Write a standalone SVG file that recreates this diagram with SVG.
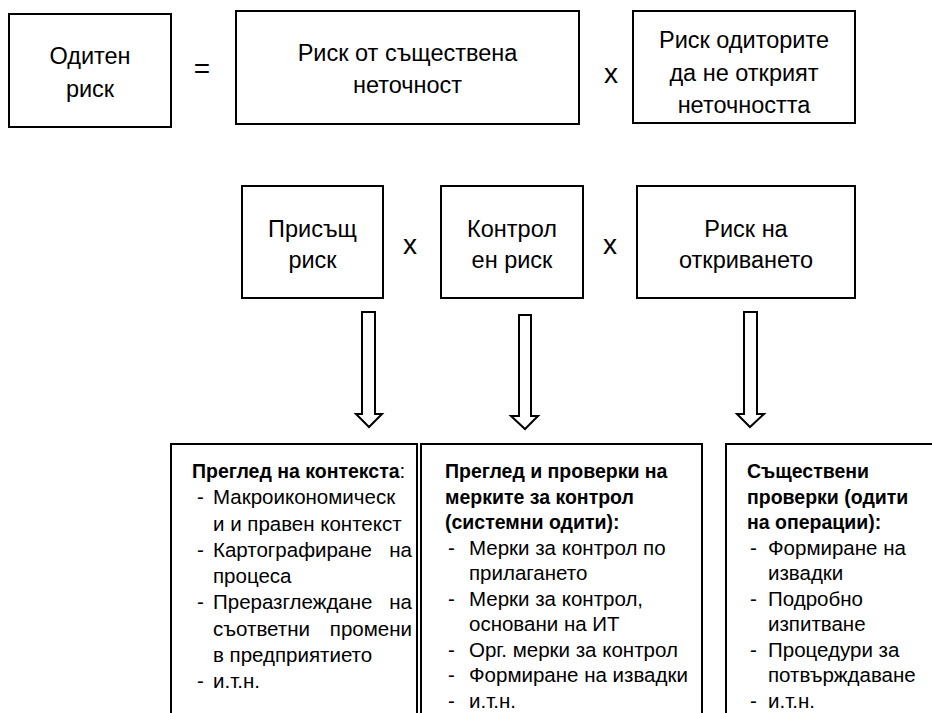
<svg xmlns="http://www.w3.org/2000/svg" width="932" height="713" viewBox="0 0 932 713">
<style>
  .box { fill: #ffffff; stroke: #000000; stroke-width: 2; }
  .arrow { fill: #ffffff; stroke: #000000; stroke-width: 2; stroke-linejoin: miter; }
  text { font-family: "Liberation Sans", Arial, sans-serif; fill: #000000; }
  .big { font-size: 23.5px; text-anchor: middle; }
  .op { font-size: 28px; text-anchor: middle; }
  .t { font-size: 20.5px; }
  .b { font-weight: bold; font-size: 19.5px; }
</style>
<rect x="0" y="0" width="932" height="713" fill="#ffffff"/>

<g id="audit-risk">
  <rect class="box" x="9" y="14" width="162" height="113"/>
  <text class="big" x="90" y="64">Одитен</text>
  <text class="big" x="90" y="97">риск</text>
</g>
<text class="op" x="202" y="78">=</text>
<g id="material-misstatement">
  <rect class="box" x="236" y="11" width="343" height="113"/>
  <text class="big" x="407.5" y="61">Риск от съществена</text>
  <text class="big" x="407.5" y="93">неточност</text>
</g>
<text class="op" x="611" y="83">x</text>
<g id="detection-failure">
  <rect class="box" x="633" y="11" width="222" height="112"/>
  <text class="big" x="744" y="48">Риск одиторите</text>
  <text class="big" x="744" y="81">да не открият</text>
  <text class="big" x="744" y="113">неточността</text>
</g>

<g id="inherent-risk">
  <rect class="box" x="242" y="186" width="141" height="112"/>
  <text class="big" x="312.5" y="237">Присъщ</text>
  <text class="big" x="312.5" y="268">риск</text>
</g>
<text class="op" x="410" y="254">x</text>
<g id="control-risk">
  <rect class="box" x="441" y="186" width="142" height="112"/>
  <text class="big" x="512" y="237">Контрол</text>
  <text class="big" x="512" y="268">ен риск</text>
</g>
<text class="op" x="610" y="254">x</text>
<g id="detection-risk">
  <rect class="box" x="637" y="186" width="218" height="112"/>
  <text class="big" x="746" y="237">Риск на</text>
  <text class="big" x="746" y="268">откриването</text>
</g>

<g id="connectors">
  <path class="arrow" d="M362,312 H375 V414 H382 L369,427 L356,414 H362 Z"/>
  <path class="arrow" d="M519,315 H531 V416 H538 L525,429 L511,416 H519 Z"/>
  <path class="arrow" d="M744,312 H757 V414 H764 L750,427 L737,414 H744 Z"/>
</g>

<g id="context-review">
  <rect class="box" x="171" y="444" width="246" height="290"/>
  <text class="t" x="192" y="478"><tspan class="b">Преглед на контекста</tspan>:</text>
  <text class="t" x="197" y="504.25">-</text>
  <text class="t" x="213" y="504.25">Макроикономическ</text>
  <text class="t" x="213" y="530.5">и и правен контекст</text>
  <text class="t" x="197" y="556.75">-</text>
  <text class="t" x="213" y="556.75">Картографиране</text>
  <text class="t" x="412" y="556.75" text-anchor="end">на</text>
  <text class="t" x="213" y="583">процеса</text>
  <text class="t" x="197" y="609.25">-</text>
  <text class="t" x="213" y="609.25">Преразглеждане</text>
  <text class="t" x="412" y="609.25" text-anchor="end">на</text>
  <text class="t" x="213" y="635.5">съответни</text>
  <text class="t" x="412" y="635.5" text-anchor="end">промени</text>
  <text class="t" x="213" y="661.75">в предприятието</text>
  <text class="t" x="197" y="688">-</text>
  <text class="t" x="213" y="688">и.т.н.</text>
</g>

<g id="controls-review">
  <rect class="box" x="421" y="444" width="281" height="290"/>
  <text class="t b" x="445" y="478">Преглед и проверки на</text>
  <text class="t b" x="445" y="503.5">мерките за контрол</text>
  <text class="t b" x="445" y="529">(системни одити):</text>
  <text class="t" x="448" y="554.5">-</text>
  <text class="t" x="469" y="554.5">Мерки за контрол по</text>
  <text class="t" x="469" y="580">прилагането</text>
  <text class="t" x="448" y="605.5">-</text>
  <text class="t" x="469" y="605.5">Мерки за контрол,</text>
  <text class="t" x="469" y="631">основани на ИТ</text>
  <text class="t" x="448" y="656.5">-</text>
  <text class="t" x="469" y="656.5">Орг. мерки за контрол</text>
  <text class="t" x="448" y="682">-</text>
  <text class="t" x="469" y="682">Формиране на извадки</text>
  <text class="t" x="448" y="707.5">-</text>
  <text class="t" x="469" y="707.5">и.т.н.</text>
</g>

<g id="substantive-tests">
  <rect class="box" x="726" y="444" width="230" height="290"/>
  <text class="t b" x="747" y="478">Съществени</text>
  <text class="t b" x="747" y="503.5">проверки (одити</text>
  <text class="t b" x="747" y="529">на операции):</text>
  <text class="t" x="750" y="554.5">-</text>
  <text class="t" x="768" y="554.5">Формиране на</text>
  <text class="t" x="768" y="580">извадки</text>
  <text class="t" x="750" y="605.5">-</text>
  <text class="t" x="768" y="605.5">Подробно</text>
  <text class="t" x="768" y="631">изпитване</text>
  <text class="t" x="750" y="656.5">-</text>
  <text class="t" x="768" y="656.5">Процедури за</text>
  <text class="t" x="768" y="682">потвърждаване</text>
  <text class="t" x="750" y="707.5">-</text>
  <text class="t" x="768" y="707.5">и.т.н.</text>
</g>
</svg>
